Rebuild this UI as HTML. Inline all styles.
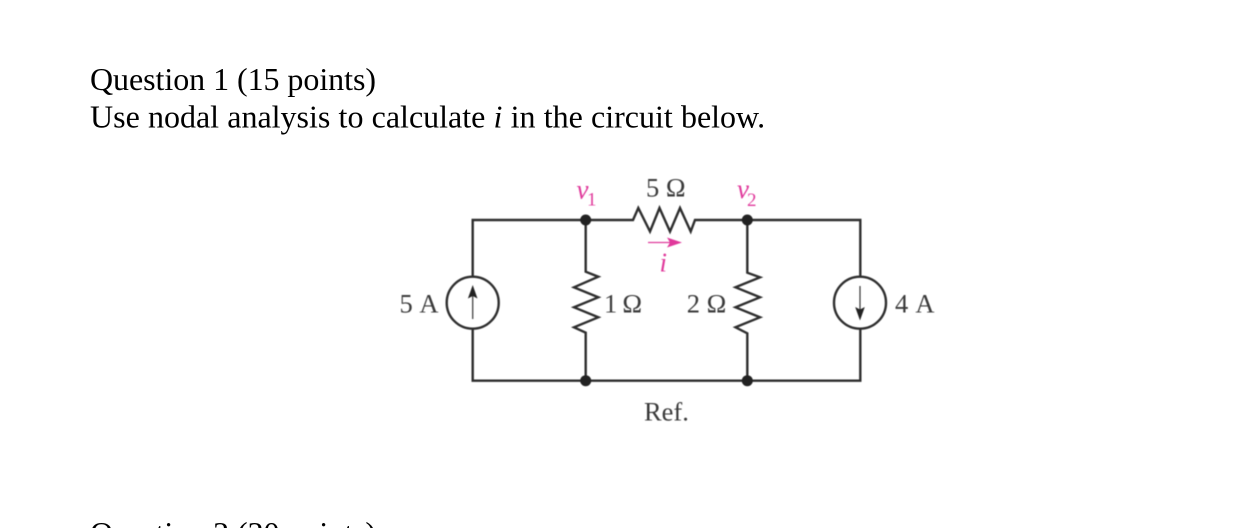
<!DOCTYPE html>
<html><head><meta charset="utf-8"><style>
html,body{margin:0;padding:0;background:#fff;width:1260px;height:528px;overflow:hidden}
svg{display:block}
text{font-family:"Liberation Serif",serif}
</style></head><body>
<svg width="1260" height="528" viewBox="0 0 1260 528" xmlns="http://www.w3.org/2000/svg">
<g font-size="32" fill="#000">
<text x="90" y="90" textLength="286">Question 1 (15 points)</text>
<text x="90" y="127.5" word-spacing="0.2">Use nodal analysis to calculate <tspan font-style="italic">i</tspan> in the circuit below.</text>
<text x="90" y="544" textLength="286">Question 2 (20 points)</text>
</g>
<g style="filter:blur(0.45px)">
<g fill="none" stroke="#2e2e2e" stroke-width="2.4" stroke-linejoin="miter">
<path d="M472.7 276.5V220H633L638.3 208 650 231.5 659.5 208 670 231.5 680 208 690.7 231.5 695 220H860.3V276.5"/>
<path d="M472.7 329V380.7H860.3V329"/>
<path d="M585.7 220V271.7L598.3 276.7 574 287.3 598.3 297.3 574 307.3 598.3 317.3 574 327.3 585.7 332.7V380.7"/>
<path d="M747.3 220V272.7L760 277.3 735.5 287.3 760 297.3 735.5 307.3 760 317.3 735.5 327.3 747.3 333.3V380.7"/>
<circle cx="472.7" cy="302.7" r="26"/>
<circle cx="860" cy="302.7" r="26"/>
</g>
<circle cx="585.7" cy="220" r="5.5" fill="#222"/>
<circle cx="747.3" cy="220" r="5.5" fill="#222"/>
<circle cx="585.7" cy="380.7" r="5.5" fill="#222"/>
<circle cx="747.3" cy="380.7" r="5.5" fill="#222"/>
<path d="M472.7 319V292" stroke="#333" stroke-width="1.2" fill="none"/>
<path d="M472.7 285L477.5 298.5 472.7 296 467.9 298.5Z" fill="#222"/>
<path d="M860 286V313" stroke="#333" stroke-width="1.2" fill="none"/>
<path d="M860 320.5L864.8 307 860 309.5 855.2 307Z" fill="#222"/>
<path d="M648 242.5H675" stroke="#e0399b" stroke-width="1.3" fill="none"/>
<path d="M682 242.5L667 237.5 670 242.5 667 247.5Z" fill="#e0399b"/>
<g font-size="26.5" fill="#3a3a3a">
<text x="646" y="196.5">5 Ω</text>
<text x="399.5" y="312.7" word-spacing="1.5">5 A</text>
<text x="604" y="312.7" word-spacing="-1.5">1 Ω</text>
<text x="686.7" y="312.7">2 Ω</text>
<text x="895" y="312.7" word-spacing="2">4 A</text>
<text x="644" y="420.5">Ref.</text>
</g>
<g fill="#e0399b">
<text x="576.5" y="198.5" font-style="italic" font-size="27">v</text>
<text x="587" y="205.7" font-size="19">1</text>
<text x="737" y="198" font-style="italic" font-size="27">v</text>
<text x="747" y="206" font-size="19">2</text>
<text x="659.5" y="271.5" font-style="italic" font-size="27">i</text>
</g>
</g>
</svg>
</body></html>
